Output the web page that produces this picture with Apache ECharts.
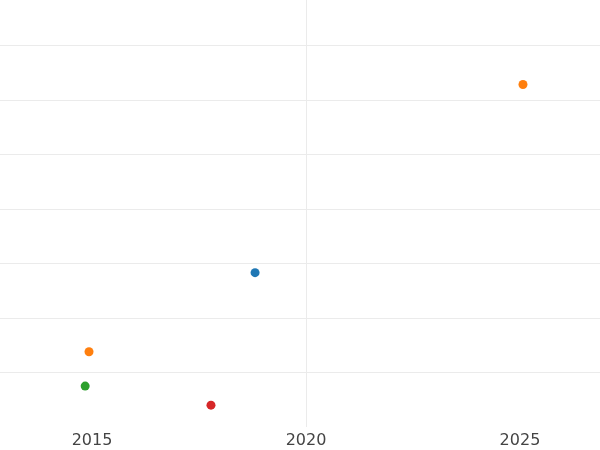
<!DOCTYPE html>
<html><head><meta charset="utf-8">
<script src="https://cdn.jsdelivr.net/npm/echarts@6/dist/echarts.min.js"></script>
<style>html,body{margin:0;padding:0;background:#fff}#c{width:600px;height:450px}</style>
</head><body><div id="c"></div>
<script>
const xTicks = [2015, 2020, 2025];
const seriesNames = ['blue', 'orange', 'green', 'red'];
const colors = ['#1f77b4', '#ff7f0e', '#2ca02c', '#d62728'];
const blueData = [[2018.81, 2.83]];
const orangeData = [[2025.07, 6.28], [2014.93, 1.38]];
const greenData = [[2014.84, 0.75]];
const redData = [[2017.78, 0.40]];
const allData = [blueData, orangeData, greenData, redData];

const chart = echarts.init(document.getElementById('c'));
chart.setOption({
  animation: false,
  grid: {left: 0, right: 0, top: 0, bottom: 23, containLabel: false},
  xAxis: {
    type: 'value', min: 2012.85, max: 2026.87,
    axisLine: {show: false},
    axisTick: {show: false, customValues: xTicks},
    axisLabel: {customValues: xTicks, formatter: v => String(v), color: '#444', fontSize: 16, fontFamily: 'DejaVu Sans', margin: 6},
    splitLine: {show: true, showMinLine: false, showMaxLine: false, lineStyle: {color: '#ebebeb', width: 1}}
  },
  yAxis: {
    type: 'value', min: 0, max: 7.83, interval: 1,
    axisLine: {show: false}, axisTick: {show: false}, axisLabel: {show: false},
    splitLine: {show: true, showMinLine: false, showMaxLine: false, lineStyle: {color: '#ebebeb', width: 1}}
  },
  series: allData.map((d, i) => ({
    name: seriesNames[i], type: 'scatter', data: d, symbolSize: 9,
    itemStyle: {color: colors[i], opacity: 1}
  }))
});
</script></body></html>
